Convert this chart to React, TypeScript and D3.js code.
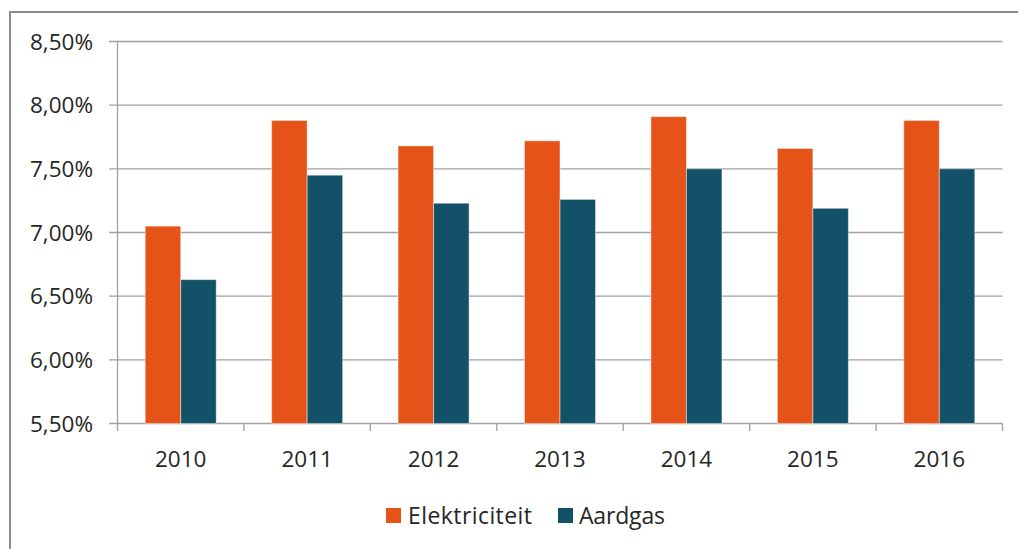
import React from 'react';
import * as d3 from 'd3';

const years = ['2010', '2011', '2012', '2013', '2014', '2015', '2016'];
const seriesNames = ['Elektriciteit', 'Aardgas'];
const elektriciteit = [7.05, 7.88, 7.68, 7.72, 7.91, 7.66, 7.88];
const aardgas = [6.63, 7.45, 7.23, 7.26, 7.5, 7.19, 7.5];
const yTicks = [5.5, 6.0, 6.5, 7.0, 7.5, 8.0, 8.5];
const colors = ['#e65318', '#135169'];

const font = '"Open Sans", "Liberation Sans", Arial, sans-serif';

const App = () => {
  const left = 117.5;
  const right = 1002.5;
  const top = 41.5;
  const bottom = 423.5;

  const x0 = d3.scaleBand().domain(years).range([left, right]).padding(0);
  const x1 = d3.scaleBand().domain(seriesNames).range([0, x0.bandwidth()]).paddingInner(0).paddingOuter(0.78);
  const y = d3.scaleLinear().domain([5.5, 8.5]).range([bottom, top]);
  const fmt = (v: number) => d3.format('.2f')(v).replace('.', ',') + '%';

  const values = [elektriciteit, aardgas];
  const boundaries = years.map(d => x0(d) as number).concat([right]);

  return (
    <svg width={1018} height={549} style={{ position: 'absolute', left: 0, top: 0, background: '#fff' }}>
      <rect x={10} y={12} width={1100} height={600} fill="#fff" stroke="#8c8c8c" strokeWidth={2} />

      {/* gridlines */}
      {yTicks.map(t => (
        <g key={t}>
          <line x1={109} x2={right} y1={y(t)} y2={y(t)} stroke="#a0a0a0" strokeWidth={1.3} />
          <text x={93} y={y(t) + 8} textAnchor="end" fontSize={22.5} fontFamily={font} fill="#262626">
            {fmt(t)}
          </text>
        </g>
      ))}

      {/* axes */}
      <line x1={left} x2={left} y1={top} y2={bottom} stroke="#a0a0a0" strokeWidth={1.3} />
      {boundaries.map((b, i) => (
        <line key={i} x1={b} x2={b} y1={bottom} y2={431} stroke="#a0a0a0" strokeWidth={1.3} />
      ))}

      {/* bars */}
      {years.map((yr, i) => (
        <g key={yr} transform={`translate(${x0(yr)},0)`}>
          {seriesNames.map((s, j) => (
            <rect
              key={s}
              x={x1(s)}
              y={y(values[j][i])}
              width={x1.bandwidth()}
              height={bottom - y(values[j][i])}
              fill={colors[j]}
              stroke="#ffffff"
              strokeOpacity={0.45}
              strokeWidth={1}
            />
          ))}
          <text
            x={x0.bandwidth() / 2}
            y={467}
            textAnchor="middle"
            fontSize={22.5}
            fontFamily={font}
            fill="#262626"
          >
            {yr}
          </text>
        </g>
      ))}

      {/* legend */}
      <rect x={386} y={508} width={15} height={15} fill={colors[0]} />
      <text x={408} y={523.5} fontSize={23} fontFamily={font} fill="#262626" textLength={124} lengthAdjust="spacing">{seriesNames[0]}</text>
      <rect x={558} y={508} width={15} height={15} fill={colors[1]} />
      <text x={579} y={523.5} fontSize={23} fontFamily={font} fill="#262626" textLength={86} lengthAdjust="spacing">{seriesNames[1]}</text>
    </svg>
  );
};

export default App;
